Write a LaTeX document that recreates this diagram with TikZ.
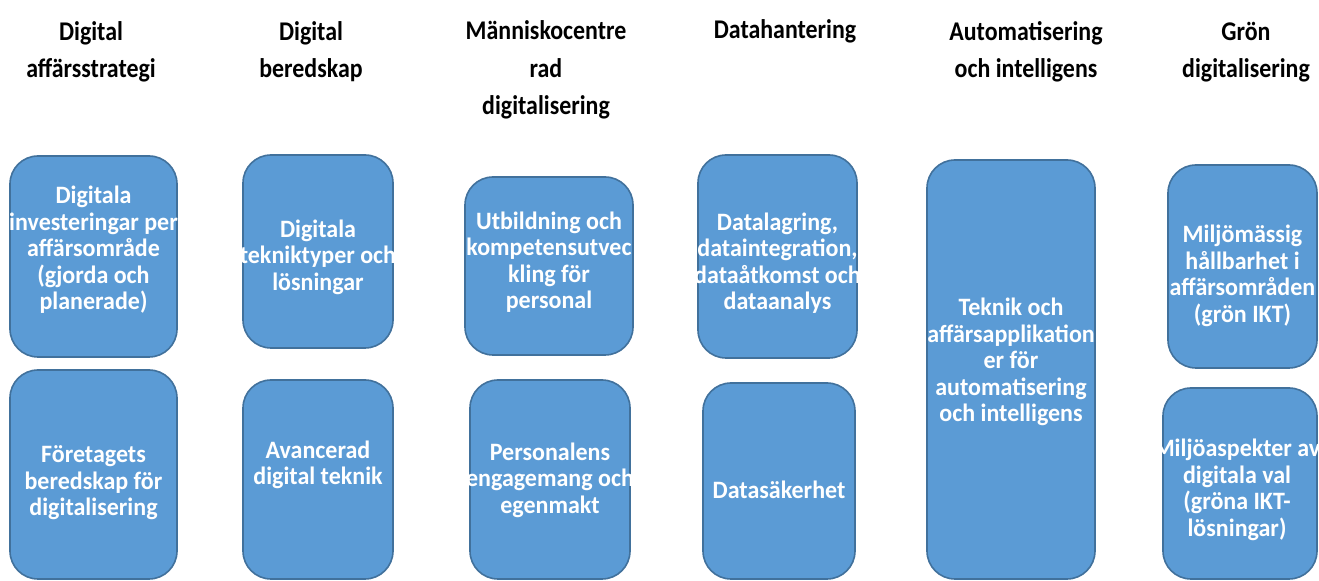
\documentclass[tikz,border=0pt]{standalone}
\usepackage{fontspec}
\setmainfont{Carlito}
\newfontfamily\headfont{Carlito}[FakeStretch=0.885]
\newfontfamily\cardfont{Carlito}[FakeStretch=0.96]
\usetikzlibrary{fit}
\definecolor{cardfill}{RGB}{91,155,213}
\definecolor{cardline}{RGB}{65,113,156}
\begin{document}
\begin{tikzpicture}[x=0.5pt,y=-0.5pt,
  head/.style={anchor=base, align=center, inner sep=0pt, text=black,
    font=\headfont\bfseries\fontsize{13.5}{18.75}\selectfont},
  card/.style={draw=cardline, fill=cardfill, line width=0.8pt,
    rounded corners=14pt, inner sep=0pt},
  cardtext/.style={align=center, inner sep=0pt, text=white,
    font=\cardfont\bfseries\fontsize{12.5}{13.25}\selectfont}]
\useasboundingbox (0,0) rectangle (1319,581);
\fill[white] (0,0) rectangle (1319,581);

% column headings (placed by the baseline of their last line)
\node[head] (h1) at (91,78)   {Digital\\affärsstrategi};
\node[head] (h2) at (311,78)  {Digital\\beredskap};
\node[head] (h3) at (546,115) {Människocentre\\rad\\digitalisering};
\node[head] (h4) at (785,39)  {Datahantering};
\node[head] (h5) at (1026,78) {Automatisering\\och intelligens};
\node[head] (h6) at (1246,78) {Grön\\digitalisering};

% rounded cards
\node[card, fit={(10,156) (177,357)}]   (a1) {};
\node[card, fit={(10,370) (177,579)}]   (a2) {};
\node[card, fit={(243,155) (393,348)}]  (b1) {};
\node[card, fit={(243,380) (393,579)}]  (b2) {};
\node[card, fit={(465,177) (633,355)}]  (c1) {};
\node[card, fit={(470,380) (630,579)}]  (c2) {};
\node[card, fit={(698,155) (857,358)}]  (d1) {};
\node[card, fit={(703,383) (855,579)}]  (d2) {};
\node[card, fit={(927,160) (1095,579)}] (e1) {};
\node[card, fit={(1168,165) (1317,368)}] (f1) {};
\node[card, fit={(1163,388) (1317,579)}] (f2) {};

% card texts
\node[cardtext] (ta1) at (93.5,250) {Digitala\\investeringar per\\affärsområde\\(gjorda och\\planerade)};
\node[cardtext] (ta2) at (93.5,483) {Företagets\\beredskap för\\digitalisering};
\node[cardtext] (tb1) at (318,257)  {Digitala\\tekniktyper och\\lösningar};
\node[cardtext] (tb2) at (318,465)  {Avancerad\\digital teknik};
\node[cardtext] (tc1) at (549,262)  {Utbildning och\\kompetensutvec\\kling för\\personal};
\node[cardtext] (tc2) at (550,480)  {Personalens\\engagemang och\\egenmakt};
\node[cardtext] (td1) at (777.5,263) {Datalagring,\\dataintegration,\\dataåtkomst och\\dataanalys};
\node[cardtext] (td2) at (779,490)  {Datasäkerhet};
\node[cardtext] (te1) at (1011,362) {Teknik och\\affärsapplikation\\er för\\automatisering\\och intelligens};
\node[cardtext] (tf1) at (1242.5,276) {Miljömässig\\hållbarhet i\\affärsområden\\(grön IKT)};
\node[cardtext] (tf2) at (1237,490) {Miljöaspekter av\\digitala val\\(gröna IKT-\\lösningar)};
\end{tikzpicture}
\end{document}
